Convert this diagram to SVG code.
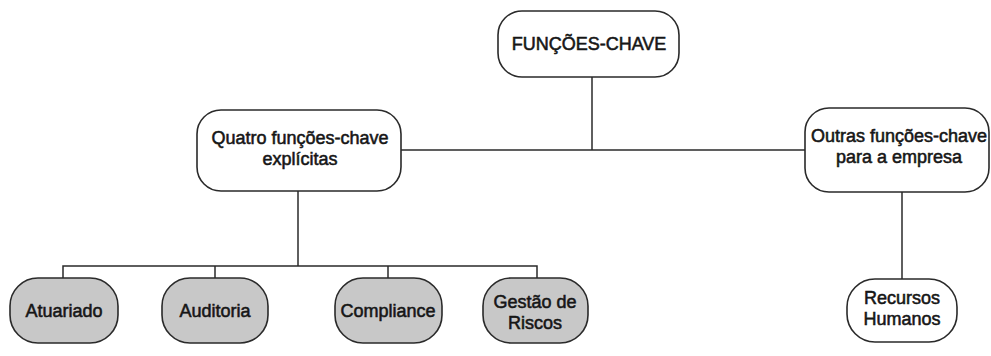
<svg xmlns="http://www.w3.org/2000/svg" width="991" height="356" viewBox="0 0 991 356">
<style>
.box{fill:#ffffff;stroke:#2a2a2a;stroke-width:1.6}
.gray{fill:#c8c8c8;stroke:#2a2a2a;stroke-width:1.6}
.lbl{font-family:"Liberation Sans",Arial,sans-serif;font-size:18px;fill:#161616;stroke:#161616;stroke-width:0.55;text-anchor:middle}
.conn{fill:none;stroke:#2a2a2a;stroke-width:1.5}
</style>
<rect width="991" height="356" fill="#ffffff"/>
<g id="connectors">
<path class="conn" d="M592 77 V150"/>
<path class="conn" d="M401 150 H806"/>
<path class="conn" d="M298 191 V266"/>
<path class="conn" d="M63 278 V266 H537 V278"/>
<path class="conn" d="M215 266 V278"/>
<path class="conn" d="M388 266 V278"/>
<path class="conn" d="M902 192 V279"/>
</g>
<g id="funcoes-chave">
<rect class="box" x="498" y="11" width="181" height="66" rx="24"/>
<text class="lbl" x="589" y="50">FUNÇÕES-CHAVE</text>
</g>
<g id="quatro-funcoes">
<rect class="box" x="197" y="110" width="204" height="81" rx="24"/>
<text class="lbl" x="300" y="144">Quatro funções-chave</text>
<text class="lbl" x="300" y="165">explícitas</text>
</g>
<g id="outras-funcoes">
<rect class="box" x="805" y="108" width="184" height="84" rx="24"/>
<text class="lbl" x="899" y="142">Outras funções-chave</text>
<text class="lbl" x="899" y="163">para a empresa</text>
</g>
<g id="atuariado">
<rect class="gray" x="10" y="278" width="108" height="65" rx="28"/>
<text class="lbl" x="64" y="317">Atuariado</text>
</g>
<g id="auditoria">
<rect class="gray" x="162" y="278" width="106" height="65" rx="28"/>
<text class="lbl" x="215" y="317">Auditoria</text>
</g>
<g id="compliance">
<rect class="gray" x="335" y="278" width="107" height="65" rx="28"/>
<text class="lbl" x="388" y="317">Compliance</text>
</g>
<g id="gestao-riscos">
<rect class="gray" x="483" y="278" width="105" height="65" rx="28"/>
<text class="lbl" x="535" y="308">Gestão de</text>
<text class="lbl" x="535" y="329">Riscos</text>
</g>
<g id="recursos-humanos">
<rect class="box" x="847" y="279" width="110" height="63" rx="28"/>
<text class="lbl" x="902" y="304">Recursos</text>
<text class="lbl" x="902" y="325">Humanos</text>
</g>
</svg>
